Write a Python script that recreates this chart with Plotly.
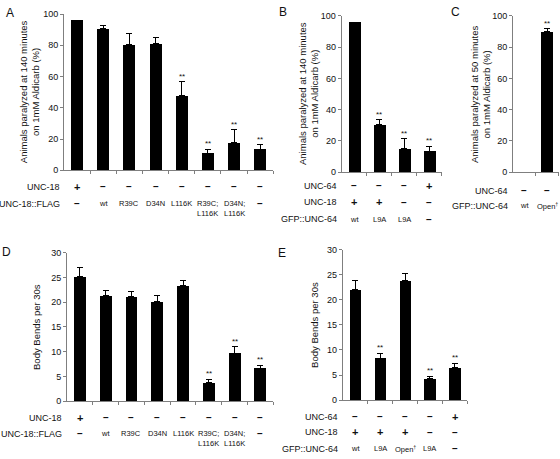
import plotly.graph_objects as go

W, H = 560, 459

# ---------------- data ----------------
# Panel A
A_vals = [96, 90.6, 80.3, 81, 47.8, 10.9, 17.5, 13.6]
A_err = [0, 2.3, 7.2, 4.3, 9.0, 2.5, 8.6, 2.9]
A_sig = ["", "", "", "", "**", "**", "**", "**"]
A_unc18 = ["+", "-", "-", "-", "-", "-", "-", "-"]
A_flag = ["-", "wt", "R39C", "D34N", "L116K", "R39C;\nL116K", "D34N;\nL116K", "-"]

# Panel B
B_vals = [96, 30.5, 15.2, 13.5]
B_err = [0, 3.0, 6.3, 3.2]
B_sig = ["", "**", "**", "**"]
B_unc64 = ["-", "-", "-", "+"]
B_unc18 = ["+", "+", "-", "-"]
B_gfp = ["wt", "L9A", "L9A", "-"]

# Panel C
C_vals = [0, 90]
C_err = [0, 1.6]
C_sig = ["", "**"]
C_unc64 = ["-", "-"]
C_gfp = ["wt", "Open†"]

# Panel D
D_vals = [25.2, 21.3, 21.1, 20.1, 23.3, 3.8, 9.7, 6.7]
D_err = [1.8, 1.0, 1.1, 1.2, 1.1, 0.6, 1.3, 0.6]
D_sig = ["", "", "", "", "", "**", "**", "**"]
D_unc18 = ["+", "-", "-", "-", "-", "-", "-", "-"]
D_flag = ["-", "wt", "R39C", "D34N", "L116K", "R39C;\nL116K", "D34N;\nL116K", "-"]

# Panel E
E_vals = [22.1, 8.4, 23.8, 4.35, 6.6]
E_err = [1.7, 0.9, 1.5, 0.45, 0.8]
E_sig = ["", "**", "", "**", "**"]
E_unc64 = ["-", "-", "-", "-", "+"]
E_unc18 = ["+", "+", "+", "-", "-"]
E_gfp = ["wt", "L9A", "Open†", "L9A", "-"]

TITLE_PARA_140 = "Animals paralyzed at 140 minutes<br>on 1mM Aldicarb (%)"
TITLE_PARA_50 = "Animals paralyzed at 50 minutes<br>on 1mM Aldicarb (%)"
TITLE_BENDS = "Body Bends per 30s"

FONT = "Arial, 'Liberation Sans', sans-serif"
AXIS_COLOR = "#7f7f7f"
TEXT_COLOR = "#111111"


def fx(x):
    return x / W


def fy(y):
    return 1 - y / H


fig = go.Figure()
annotations = []

panels = [
    dict(n="1", vals=A_vals, err=A_err, sig=A_sig, xd=(64, 273.3), yd=(169, 9.3), ymax=100, dt=20, bw=0.46,
         rows=[("UNC-18", A_unc18, 186), ("UNC-18::FLAG", A_flag, 203.3)], rx=62,
         title=TITLE_PARA_140, tx=29, letter=("A", 10, 8)),
    dict(n="2", vals=B_vals, err=B_err, sig=B_sig, xd=(341.7, 441.7), yd=(171, 11), ymax=100, dt=20, bw=0.48,
         rows=[("UNC-64", B_unc64, 185), ("UNC-18", B_unc18, 201.5), ("GFP::UNC-64", B_gfp, 219)], rx=339,
         title=TITLE_PARA_140, tx=308, letter=("B", 283, 7)),
    dict(n="3", vals=C_vals, err=C_err, sig=C_sig, xd=(513, 558.5), yd=(171, 11), ymax=100, dt=20, bw=0.5,
         rows=[("UNC-64", C_unc64, 190), ("GFP::UNC-64", C_gfp, 205)], rx=510,
         title=TITLE_PARA_50, tx=480, letter=("C", 455, 7)),
    dict(n="4", vals=D_vals, err=D_err, sig=D_sig, xd=(67, 273.3), yd=(405, 253.3), ymax=30, dt=5, bw=0.46,
         rows=[("UNC-18", D_unc18, 421.7), ("UNC-18::FLAG", D_flag, 438.3)], rx=63.5,
         title=TITLE_BENDS, tx=37, letter=("D", 6, 253)),
    dict(n="5", vals=E_vals, err=E_err, sig=E_sig, xd=(342.7, 467.3), yd=(404, 250), ymax=30, dt=5, bw=0.46,
         rows=[("UNC-64", E_unc64, 421), ("UNC-18", E_unc18, 437), ("GFP::UNC-64", E_gfp, 453.5)], rx=340,
         title=TITLE_BENDS, tx=315, letter=("E", 282, 254)),
]

layout = {}
for p in panels:
    n = p["n"]
    k = len(p["vals"])
    xs = list(range(k))
    xa = "x" if n == "1" else "x" + n
    ya = "y" if n == "1" else "y" + n
    err = [e if e > 0 else None for e in p["err"]]
    fig.add_trace(go.Bar(
        x=xs, y=p["vals"], width=p["bw"], xaxis=xa, yaxis=ya,
        marker=dict(color="black", line=dict(width=0)),
        error_y=dict(type="data", symmetric=False, array=err, arrayminus=[0] * k,
                     color="black", thickness=1, width=3),
        showlegend=False, hoverinfo="skip", cliponaxis=False,
    ))
    xkey = "xaxis" if n == "1" else "xaxis" + n
    ykey = "yaxis" if n == "1" else "yaxis" + n
    layout[xkey] = dict(
        domain=[fx(p["xd"][0]), fx(p["xd"][1])], anchor=ya, range=[-0.5, k - 0.5],
        showgrid=False, zeroline=False, showline=True, linecolor=AXIS_COLOR, linewidth=1,
        ticks="outside", ticklen=3, tickcolor=AXIS_COLOR,
        tickvals=[i + 0.5 for i in range(k)], showticklabels=False, fixedrange=True,
    )
    layout[ykey] = dict(
        domain=[fy(p["yd"][0]), fy(p["yd"][1])], anchor=xa, range=[0, p["ymax"]],
        showgrid=False, zeroline=False, showline=True, linecolor=AXIS_COLOR, linewidth=1,
        ticks="outside", ticklen=3, tickcolor=AXIS_COLOR, dtick=p["dt"], tick0=0,
        tickfont=dict(family=FONT, size=9, color=TEXT_COLOR), fixedrange=True,
    )
    for i, s in enumerate(p["sig"]):
        if s:
            annotations.append(dict(x=i, y=p["vals"][i] + p["err"][i], xref=xa, yref=ya,
                                    text=s, showarrow=False, yanchor="bottom", yshift=-1,
                                    font=dict(family=FONT, size=8, color=TEXT_COLOR)))
    for (name, items, yrow) in p["rows"]:
        annotations.append(dict(x=fx(p["rx"]), y=fy(yrow), xref="paper", yref="paper",
                                text=name, showarrow=False, xanchor="right", yanchor="middle",
                                font=dict(family=FONT, size=9, color=TEXT_COLOR)))
        for i, it in enumerate(items):
            if it == "+":
                annotations.append(dict(x=i, y=fy(yrow), xref=xa, yref="paper", text="<b>+</b>",
                                        showarrow=False, yanchor="middle",
                                        font=dict(family=FONT, size=11, color=TEXT_COLOR)))
            elif it == "-":
                annotations.append(dict(x=i, y=fy(yrow), xref=xa, yref="paper", text="<b>–</b>",
                                        showarrow=False, yanchor="middle",
                                        font=dict(family=FONT, size=10, color=TEXT_COLOR)))
            else:
                lines = it.split("\n")
                for j, ln in enumerate(lines):
                    txt = ln.replace("†", "<sup>†</sup>")
                    annotations.append(dict(x=i, y=fy(yrow + 10 * j), xref=xa, yref="paper", text=txt,
                                            showarrow=False, yanchor="middle",
                                            font=dict(family=FONT, size=7.5, color=TEXT_COLOR)))
    ymid = (p["yd"][0] + p["yd"][1]) / 2
    annotations.append(dict(x=fx(p["tx"]), y=fy(ymid), xref="paper", yref="paper", text=p["title"],
                            textangle=-90, showarrow=False, xanchor="center", yanchor="middle",
                            font=dict(family=FONT, size=9.5, color=TEXT_COLOR)))
    L, lx, ly = p["letter"]
    annotations.append(dict(x=fx(lx), y=fy(ly), xref="paper", yref="paper", text=L,
                            showarrow=False, xanchor="center", yanchor="middle",
                            font=dict(family=FONT, size=12, color=TEXT_COLOR)))

fig.update_layout(
    width=W, height=H, margin=dict(l=0, r=0, t=0, b=0),
    paper_bgcolor="white", plot_bgcolor="white",
    bargap=0, annotations=annotations, **layout,
)

fig.write_html(
    "out.html",
    config={"displayModeBar": False},
    post_script="document.body.style.margin='0';document.body.style.overflow='hidden';",
)
